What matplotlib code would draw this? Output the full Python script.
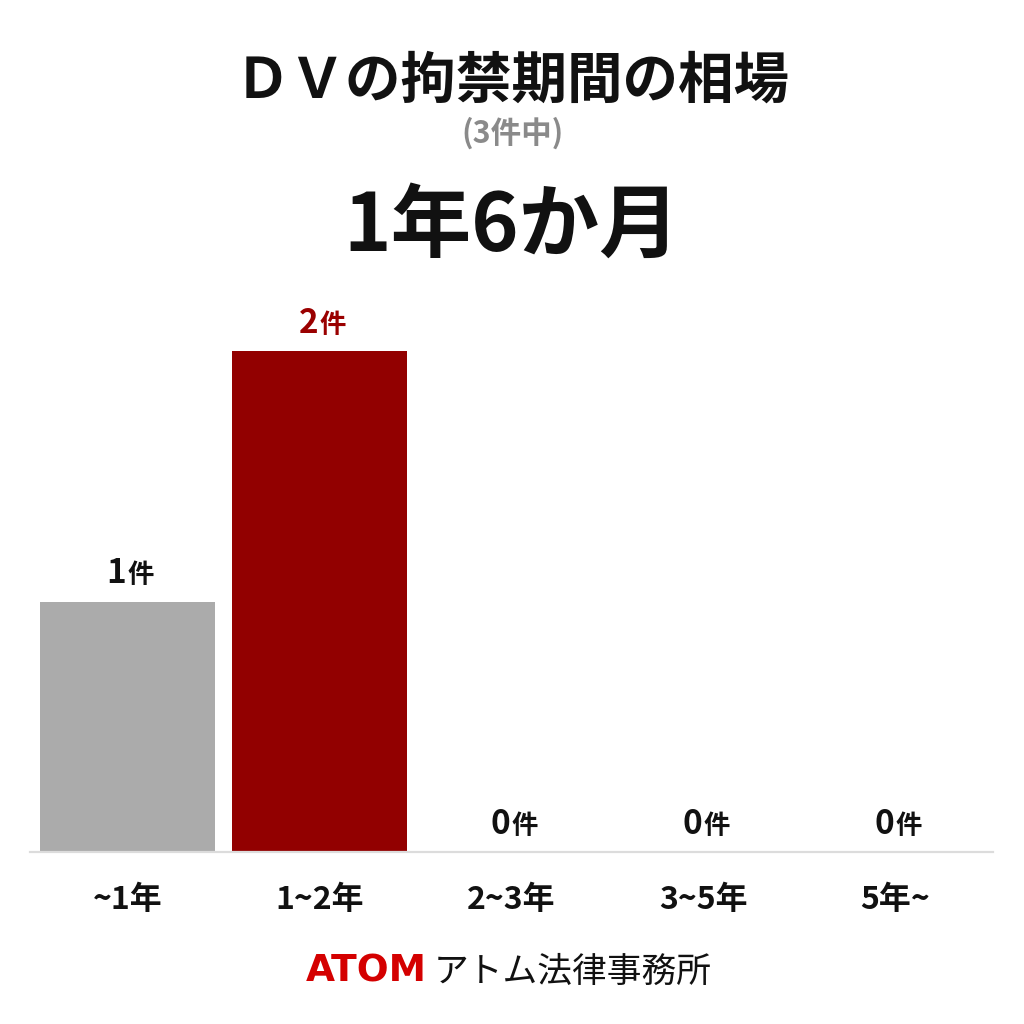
import matplotlib
matplotlib.use("Agg")
import matplotlib.pyplot as plt

plt.rcParams['font.family'] = ['Noto Sans CJK JP', 'DejaVu Sans']

categories = ["~1年", "1~2年", "2~3年", "3~5年", "5年~"]
counts = [1, 2, 0, 0, 0]
bar_colors = ["#ababab", "#920000", "#ababab", "#ababab", "#ababab"]
label_colors = ["#111111", "#9a0000", "#111111", "#111111", "#111111"]
title = "ＤＶの拘禁期間の相場"
subtitle = "(3件中)"
headline = "1年6か月"
unit = "件"

fig = plt.figure(figsize=(10.24, 10.24), dpi=100)
fig.patch.set_facecolor("white")

ax = fig.add_axes([30/1024, 1 - 852/1024, 963/1024, 551/1024])
x = list(range(len(categories)))
ax.bar(x, counts, width=175/192, color=bar_colors, zorder=2)
ax.set_xlim(-0.508, 4.508)
ax.set_ylim(0, 2.2)

for s in ["top", "right", "left"]:
    ax.spines[s].set_visible(False)
ax.spines["bottom"].set_color("#dcdcdc")
ax.spines["bottom"].set_linewidth(1.6)
ax.set_yticks([])
ax.set_xticks(x)
ax.set_xticklabels(categories, fontsize=23, fontweight="bold", color="#111111")
ax.tick_params(axis="x", length=0, pad=23)

for xi, v, c in zip(x, counts, label_colors):
    ax.annotate(str(v), xy=(xi, v), xytext=(-1, 13), textcoords="offset points",
                ha="right", va="baseline", fontsize=24, fontweight="bold", color=c)
    ax.annotate(unit, xy=(xi, v), xytext=(0, 13), textcoords="offset points",
                ha="left", va="baseline", fontsize=19, fontweight="bold", color=c)

fig.text(0.5, 1 - 82/1024, title, ha="center", va="center",
         fontsize=40, fontweight="bold", color="#111111")
fig.text(0.5, 1 - 133/1024, subtitle, ha="center", va="center",
         fontsize=22, fontweight="bold", color="#8a8a8a")
fig.text(0.5, 1 - 227/1024, headline, ha="center", va="center",
         fontsize=58, fontweight="bold", color="#111111")

fig.text(427/1024, 1 - 972/1024, "ATOM", ha="right", va="center",
         fontsize=27, fontweight="heavy", color="#d40000", family="DejaVu Sans")
fig.text(434/1024, 1 - 972/1024, "アトム法律事務所", ha="left", va="center",
         fontsize=25, color="#111111")

fig.savefig("out.png", dpi=100, facecolor="white")
